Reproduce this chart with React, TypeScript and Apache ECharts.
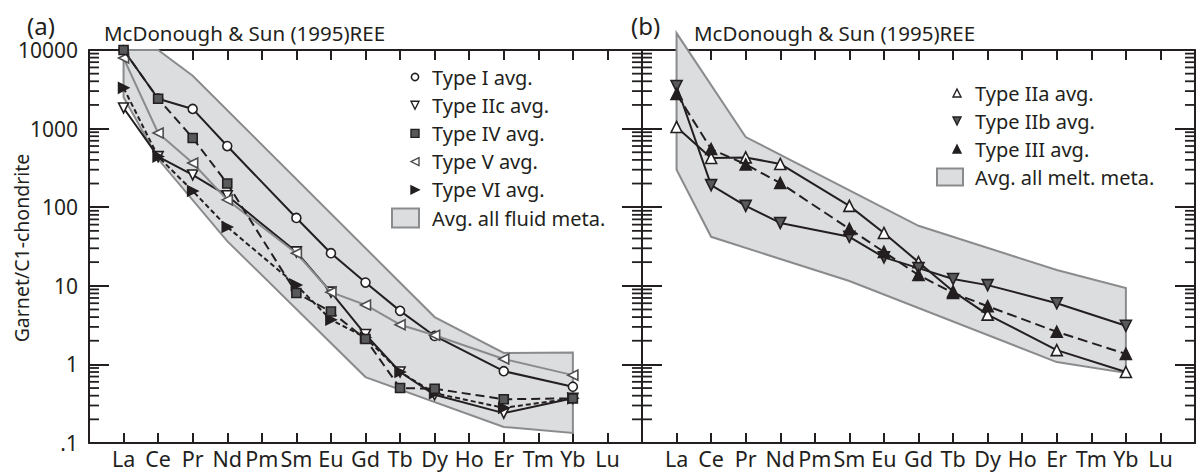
import React, { useEffect, useRef } from 'react';
import * as echarts from 'echarts';

// ---------- data ----------
const ELEMENTS = ['La', 'Ce', 'Pr', 'Nd', 'Pm', 'Sm', 'Eu', 'Gd', 'Tb', 'Dy', 'Ho', 'Er', 'Tm', 'Yb', 'Lu'];
const Y_TICK_VALUES = [0.1, 1, 10, 100, 1000, 10000];
const Y_TICK_LABELS = ['.1', '1', '10', '100', '1000', '10000'];
const Y_AXIS_NAME = 'Garnet/C1-chondrite';
const PANEL_LABELS = ['(a)', '(b)'];
const PANEL_TITLES = ['McDonough & Sun (1995)REE', 'McDonough & Sun (1995)REE'];

//                La     Ce    Pr    Nd   Pm    Sm    Eu   Gd    Tb    Dy   Ho    Er   Tm    Yb   Lu
const TYPE_I   = [10000, 2400, 1780, 600, null, 73,   26,  11,   4.8,  2.3, null, 0.82, null, 0.52, null];
const TYPE_IIC = [1830,  440,  257,  140, null, 27,   8.3, 2.4,  0.8,  0.41, null, 0.24, null, 0.37, null];
const TYPE_IV  = [10000, 2400, 760,  200, null, 8.1,  4.7, 2.1,  0.5,  0.49, null, 0.36, null, 0.37, null];
const TYPE_V   = [7900,  880,  365,  124, null, 26,   8.3, 5.7,  3.2,  2.35, null, 1.17, null, 0.73, null];
const TYPE_VI  = [3300,  440,  161,  56,  null, 10.2, 3.7, 2.2,  0.8,  0.43, null, 0.28, null, 0.37, null];
const FLUID_UPPER = [10000, 10000, 4700, null, null, null, null, null, null, 4.0, null, 1.4, null, 1.42, null];
const FLUID_LOWER = [2500, 410, null, 37, null, null, null, 0.69, null, null, null, 0.16, null, 0.134, null];

const TYPE_IIA = [1050, 423, 430, 355, null, 104, 47, 20, 8.5, 4.3, null, 1.52, null, 0.8, null];
const TYPE_IIB = [3480, 191, 104, 63, null, 42, 23, 16.8, 12.2, 10.2, null, 6.0, null, 3.1, null];
const TYPE_III = [2760, 550, 350, 203, null, 53, 27, 13.7, 8.1, 5.5, null, 2.6, null, 1.36, null];
const MELT_UPPER = [16400, null, 780, null, null, null, null, 58, null, null, null, 15.9, null, 9.4, null];
const MELT_LOWER = [300, 42, null, null, null, 11.5, null, null, null, null, null, 1.07, null, 0.78, null];

const FLUID_NAME = 'Avg. all fluid meta.';
const MELT_NAME = 'Avg. all melt. meta.';

// ---------- style ----------
const FONT = '"Noto Sans", "Open Sans", sans-serif';
const BLACK = '#231f20';
const DARK = '#58595b';
const GRAY_LINE = '#8a8b8d';
const BAND_FILL = '#dcddde';
const BAND_STROKE = '#8a8b8d';
const X_MIN = -1;
const X_MAX = 15;

type Spec = {
  name: string;
  values: (number | null)[];
  symbol: string;
  rotate: number;
  size: number;
  fill: string;
  stroke: string;
  line: string;
  dash: any;
  z: number;
};

const LEFT_SERIES: Spec[] = [
  { name: 'Type I avg.', values: TYPE_I, symbol: 'circle', rotate: 0, size: 9, fill: '#ffffff', stroke: BLACK, line: BLACK, dash: 'solid', z: 4 },
  { name: 'Type IIc avg.', values: TYPE_IIC, symbol: 'triangle', rotate: 180, size: 10, fill: '#ffffff', stroke: BLACK, line: BLACK, dash: 'solid', z: 5 },
  { name: 'Type IV avg.', values: TYPE_IV, symbol: 'rect', rotate: 0, size: 9, fill: DARK, stroke: BLACK, line: BLACK, dash: [9, 5], z: 8 },
  { name: 'Type V avg.', values: TYPE_V, symbol: 'triangle', rotate: 90, size: 10, fill: '#ffffff', stroke: '#4d4d4f', line: GRAY_LINE, dash: 'solid', z: 6 },
  { name: 'Type VI avg.', values: TYPE_VI, symbol: 'triangle', rotate: -90, size: 10, fill: BLACK, stroke: BLACK, line: BLACK, dash: [5, 3], z: 7 },
];

const RIGHT_SERIES: Spec[] = [
  { name: 'Type IIa avg.', values: TYPE_IIA, symbol: 'triangle', rotate: 0, size: 11, fill: '#ffffff', stroke: BLACK, line: BLACK, dash: 'solid', z: 4 },
  { name: 'Type IIb avg.', values: TYPE_IIB, symbol: 'triangle', rotate: 180, size: 11, fill: DARK, stroke: BLACK, line: BLACK, dash: 'solid', z: 5 },
  { name: 'Type III avg.', values: TYPE_III, symbol: 'triangle', rotate: 0, size: 11, fill: BLACK, stroke: BLACK, line: BLACK, dash: [10, 5], z: 6 },
];

const toPairs = (arr: (number | null)[]) =>
  arr.map((v, i) => (v == null ? null : [i, v])).filter((p) => p !== null);

function lineSeries(spec: Spec, g: number) {
  return {
    type: 'line',
    name: spec.name,
    xAxisIndex: g * 2,
    yAxisIndex: g * 2,
    data: toPairs(spec.values),
    symbol: spec.symbol,
    symbolSize: spec.size,
    symbolRotate: spec.rotate,
    showAllSymbol: true,
    itemStyle: { color: spec.fill, borderColor: spec.stroke, borderWidth: 1.6 },
    lineStyle: { color: spec.line, width: 2, type: spec.dash },
    emphasis: { disabled: true },
    z: spec.z,
  };
}

function bandSeries(name: string, upper: (number | null)[], lower: (number | null)[], g: number) {
  return {
    type: 'custom',
    name,
    xAxisIndex: g * 2,
    yAxisIndex: g * 2,
    z: 1,
    silent: true,
    clip: false,
    data: [[0, upper[0]]],
    renderItem: (_p: any, api: any) => {
      const pts: number[][] = [];
      upper.forEach((v, i) => {
        if (v != null) pts.push(api.coord([i, v]));
      });
      for (let i = lower.length - 1; i >= 0; i--) {
        const v = lower[i];
        if (v != null) pts.push(api.coord([i, v]));
      }
      return {
        type: 'polygon',
        shape: { points: pts },
        style: { fill: BAND_FILL, stroke: BAND_STROKE, lineWidth: 2, lineJoin: 'miter' },
      };
    },
  };
}

function minorTickValues() {
  const out: number[][] = [];
  for (let e = -1; e < 4; e++) {
    for (let m = 2; m <= 9; m++) out.push([X_MIN, m * Math.pow(10, e)]);
  }
  return out;
}

function minorTickSeries(g: number) {
  return {
    type: 'custom',
    xAxisIndex: g * 2,
    yAxisIndex: g * 2,
    z: 10,
    silent: true,
    clip: false,
    data: minorTickValues(),
    renderItem: (_p: any, api: any) => {
      const v = api.value(1);
      const l = api.coord([X_MIN, v]);
      const r = api.coord([X_MAX, v]);
      return {
        type: 'group',
        children: [
          { type: 'line', shape: { x1: l[0], y1: l[1], x2: l[0] + 10, y2: l[1] }, style: { stroke: BLACK, lineWidth: 1.8 } },
          { type: 'line', shape: { x1: r[0] - 10, y1: r[1], x2: r[0], y2: r[1] }, style: { stroke: BLACK, lineWidth: 1.8 } },
        ],
      };
    },
  };
}

function legendMarker(spec: Spec, cx: number, cy: number) {
  const s = 8;
  if (spec.symbol === 'circle') {
    return { type: 'circle', shape: { cx, cy, r: 3.6 }, style: { fill: spec.fill, stroke: spec.stroke, lineWidth: 1.6 } };
  }
  if (spec.symbol === 'rect') {
    return { type: 'rect', shape: { x: cx - s / 2, y: cy - s / 2, width: s, height: s }, style: { fill: spec.fill, stroke: spec.stroke, lineWidth: 1.4 } };
  }
  return {
    type: 'polygon',
    x: cx,
    y: cy,
    rotation: (spec.rotate * Math.PI) / 180,
    shape: { points: [[0, -s / 2], [s / 2, s / 2], [-s / 2, s / 2]] },
    style: { fill: spec.fill, stroke: spec.stroke, lineWidth: 1.4 },
  };
}

function legendGroup(specs: Spec[], bandName: string, markerX: number, textX: number, y0: number, step: number, sw: number[]) {
  const els: any[] = [];
  specs.forEach((spec, i) => {
    const y = y0 + i * step;
    els.push(legendMarker(spec, markerX, y));
    els.push({ type: 'text', x: textX, y, style: { text: spec.name, fill: BLACK, fontSize: 20, fontFamily: FONT, verticalAlign: 'middle' } });
  });
  const yb = y0 + specs.length * step;
  els.push({ type: 'rect', shape: { x: sw[0], y: yb - sw[3] / 2, width: sw[2], height: sw[3] }, style: { fill: BAND_FILL, stroke: BAND_STROKE, lineWidth: 2 } });
  els.push({ type: 'text', x: textX, y: yb, style: { text: bandName, fill: BLACK, fontSize: 20, fontFamily: FONT, verticalAlign: 'middle' } });
  return els;
}

function buildOption() {
  const axisLine = { show: true, onZero: false, lineStyle: { color: BLACK, width: 2 } };
  const xAxes: any[] = [];
  const yAxes: any[] = [];
  [0, 1].forEach((g) => {
    xAxes.push({
      type: 'value', gridIndex: g, min: X_MIN, max: X_MAX, interval: 1, position: 'bottom',
      axisLine, axisTick: { show: true, inside: true, length: 10, lineStyle: { color: BLACK, width: 2 } },
      axisLabel: { show: true, formatter: (v: number) => ELEMENTS[v] ?? '', fontSize: 21.5, color: BLACK, fontFamily: FONT, margin: 4 },
      splitLine: { show: false },
    });
    xAxes.push({
      type: 'value', gridIndex: g, min: X_MIN, max: X_MAX, interval: 1, position: 'top',
      axisLine, axisTick: { show: true, inside: true, length: 10, lineStyle: { color: BLACK, width: 2 } },
      axisLabel: { show: false }, splitLine: { show: false },
    });
    yAxes.push({
      type: 'log', gridIndex: g, min: 0.1, max: 10000, logBase: 10, position: 'left',
      axisLine, axisTick: { show: true, inside: true, length: 20, lineStyle: { color: BLACK, width: 2 } },
      axisLabel: g === 0
        ? {
            show: true, fontSize: 21, color: BLACK, fontFamily: FONT, margin: 11, padding: [5, 0, 0, 0],
            formatter: (v: number) => Y_TICK_LABELS[Y_TICK_VALUES.findIndex((t) => Math.abs(Math.log10(t) - Math.log10(v)) < 0.01)] ?? '',
          }
        : { show: false },
      splitLine: { show: false },
    });
    yAxes.push({
      type: 'log', gridIndex: g, min: 0.1, max: 10000, logBase: 10, position: 'right',
      axisLine, axisTick: { show: true, inside: true, length: 20, lineStyle: { color: BLACK, width: 2 } },
      axisLabel: { show: false }, splitLine: { show: false },
    });
  });

  const series: any[] = [
    bandSeries(FLUID_NAME, FLUID_UPPER, FLUID_LOWER, 0),
    bandSeries(MELT_NAME, MELT_UPPER, MELT_LOWER, 1),
    minorTickSeries(0),
    minorTickSeries(1),
    ...LEFT_SERIES.map((s) => lineSeries(s, 0)),
    ...RIGHT_SERIES.map((s) => lineSeries(s, 1)),
  ];

  const titleStyle = { fill: BLACK, fontFamily: FONT, verticalAlign: 'middle' };
  const graphic: any[] = [
    { type: 'text', x: 27, y: 25, style: { ...titleStyle, text: PANEL_LABELS[0], fontSize: 24, lineHeight: 20 } },
    { type: 'text', x: 104, y: 33, style: { ...titleStyle, text: PANEL_TITLES[0], fontSize: 20.5 } },
    { type: 'text', x: 631, y: 25, style: { ...titleStyle, text: PANEL_LABELS[1], fontSize: 24, lineHeight: 20 } },
    { type: 'text', x: 694, y: 33, style: { ...titleStyle, text: PANEL_TITLES[1], fontSize: 20.5 } },
    {
      type: 'text', x: 21, y: 248, rotation: Math.PI / 2,
      style: { text: Y_AXIS_NAME, fill: BLACK, fontFamily: FONT, fontSize: 19.5, align: 'center', verticalAlign: 'middle' },
    },
    ...legendGroup(LEFT_SERIES, FLUID_NAME, 415, 432, 77, 28.2, [392, 0, 27, 19]),
    ...legendGroup(RIGHT_SERIES, MELT_NAME, 957, 975, 93, 28, [937, 0, 26, 17]),
  ];

  return {
    animation: false,
    backgroundColor: '#ffffff',
    textStyle: { fontFamily: FONT },
    grid: [
      { left: 89, top: 50, width: 553, height: 393, containLabel: false, outerBoundsMode: 'none' },
      { left: 642, top: 50, width: 553, height: 393, containLabel: false, outerBoundsMode: 'none' },
    ],
    xAxis: xAxes,
    yAxis: yAxes,
    series,
    graphic,
    tooltip: { show: false },
  };
}

export default function App() {
  const ref = useRef<HTMLDivElement>(null);
  useEffect(() => {
    document.body.style.margin = '0';
    if (!ref.current) return;
    const chart = echarts.init(ref.current, undefined, { renderer: 'svg' });
    chart.setOption(buildOption() as any);
    return () => chart.dispose();
  }, []);
  return <div ref={ref} style={{ width: 1202, height: 472, background: '#fff' }} />;
}
